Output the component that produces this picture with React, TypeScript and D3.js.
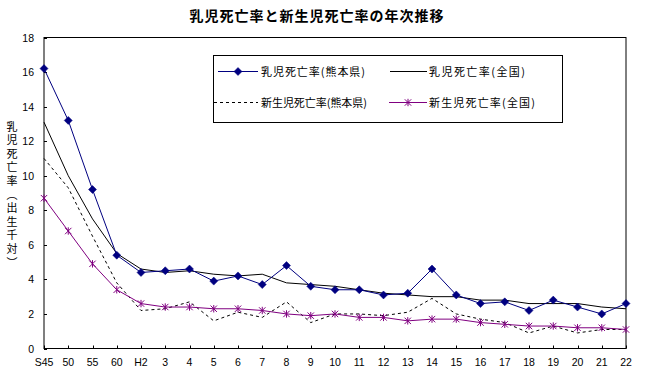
import React from "react";
import * as d3 from "d3";

const categories = ["S45","50","55","60","H2","3","4","5","6","7","8","9","10","11","12","13","14","15","16","17","18","19","20","21","22"];
const kumaInfant = [16.2,13.2,9.2,5.4,4.4,4.5,4.6,3.9,4.2,3.7,4.8,3.6,3.4,3.4,3.1,3.2,4.6,3.1,2.6,2.7,2.2,2.8,2.4,2.0,2.6];
const natInfant = [13.1,10.0,7.5,5.5,4.6,4.4,4.5,4.3,4.2,4.3,3.8,3.7,3.6,3.4,3.2,3.1,3.0,3.0,2.8,2.8,2.6,2.6,2.6,2.4,2.3];
const kumaNeo = [11.0,9.3,6.5,3.8,2.2,2.3,2.7,1.6,2.1,1.8,2.7,1.5,2.0,2.0,1.9,2.1,2.9,2.0,1.7,1.5,0.9,1.3,0.9,1.1,1.1];
const natNeo = [8.7,6.8,4.9,3.4,2.6,2.4,2.4,2.3,2.3,2.2,2.0,1.9,2.0,1.8,1.8,1.6,1.7,1.7,1.5,1.4,1.3,1.3,1.2,1.2,1.1];
const yTicks = [0,2,4,6,8,10,12,14,16,18];
const title = "乳児死亡率と新生児死亡率の年次推移";
const yLabel = "乳児死亡率（出生千対）";
const legendNames = ["乳児死亡率(熊本県)","乳児死亡率(全国)","新生児死亡率(熊本県)","新生児死亡率(全国)"];

const JP = "'Noto Sans CJK JP', 'DejaVu Sans', sans-serif";
const NAVY = "#000080";
const PURPLE = "#800080";

const L = 44, R = 626, T = 37.5, B = 348.5;

const x = d3.scalePoint<string>().domain(categories).range([L, R]);
const y = d3.scaleLinear().domain([0, 18]).range([B, T]);

function Diamond({ cx, cy }: { cx: number; cy: number }) {
  const s = 4;
  return <path d={`M${cx},${cy - s}L${cx + s},${cy}L${cx},${cy + s}L${cx - s},${cy}Z`} fill={NAVY} stroke={NAVY} strokeWidth={0.5} />;
}
function Star({ cx, cy }: { cx: number; cy: number }) {
  const s = 3.2;
  return (
    <path
      d={`M${cx - s},${cy - s}L${cx + s},${cy + s}M${cx - s},${cy + s}L${cx + s},${cy - s}M${cx},${cy - s - 0.5}L${cx},${cy + s + 0.5}`}
      stroke={PURPLE}
      strokeWidth={1}
      fill="none"
    />
  );
}

export default function App() {
  const line = d3
    .line<number>()
    .x((_, i) => x(categories[i]) as number)
    .y((d) => y(d));

  return (
    <svg width={648} height={376} style={{ position: "absolute", left: 0, top: 0, background: "#fff" }}>
      <rect x={0} y={0} width={648} height={376} fill="#fff" />
      <text x={317} y={21} textAnchor="middle" fontFamily={JP} fontWeight="bold" fontSize={14} letterSpacing={1}>
        {title}
      </text>

      {/* plot frame */}
      <rect x={L} y={T} width={R - L} height={B - T} fill="none" stroke="#000" strokeWidth={1} />

      {/* y ticks */}
      {yTicks.map((t) => (
        <g key={t}>
          <line x1={L} x2={L + 3} y1={Math.round(y(t)) + 0.5} y2={Math.round(y(t)) + 0.5} stroke="#000" />
          <text x={34} y={y(t) + 4} textAnchor="end" fontFamily="'Liberation Sans', Arial, sans-serif" fontSize={10.5}>
            {t}
          </text>
        </g>
      ))}
      {/* x ticks */}
      {categories.map((c) => (
        <g key={c}>
          <line x1={Math.round(x(c) as number) + 0.5} x2={Math.round(x(c) as number) + 0.5} y1={B} y2={B - 3} stroke="#000" />
          <text x={x(c) as number} y={366} textAnchor="middle" fontFamily="'Liberation Sans', Arial, sans-serif" fontSize={10.5}>
            {c}
          </text>
        </g>
      ))}

      {/* y axis label */}
      <text
        x={12}
        y={121}
        fontFamily={JP}
        fontSize={11}
        letterSpacing={2.6}
        style={{ writingMode: "vertical-rl" as any }}
      >
        {yLabel}
      </text>

      {/* series */}
      <path d={line(natInfant) || ""} fill="none" stroke="#000" strokeWidth={1} />
      <path d={line(kumaNeo) || ""} fill="none" stroke="#000" strokeWidth={1} strokeDasharray="3,3" />
      <path d={line(natNeo) || ""} fill="none" stroke={PURPLE} strokeWidth={1} />
      {natNeo.map((v, i) => (
        <Star key={i} cx={x(categories[i]) as number} cy={y(v)} />
      ))}
      <path d={line(kumaInfant) || ""} fill="none" stroke={NAVY} strokeWidth={1} />
      {kumaInfant.map((v, i) => (
        <Diamond key={i} cx={x(categories[i]) as number} cy={y(v)} />
      ))}

      {/* legend */}
      <rect x={213.5} y={55.5} width={349} height={67} fill="#fff" stroke="#000" strokeWidth={1} />
      <line x1={218} x2={258} y1={71.5} y2={71.5} stroke={NAVY} />
      <Diamond cx={238} cy={71.5} />
      <text x={261} y={75.5} fontFamily={JP} fontSize={11} textLength={104} lengthAdjust="spacing">{legendNames[0]}</text>
      <line x1={390} x2={427} y1={71.5} y2={71.5} stroke="#000" />
      <text x={429} y={75.5} fontFamily={JP} fontSize={11} textLength={96} lengthAdjust="spacing">{legendNames[1]}</text>
      <line x1={214} x2={258} y1={102.5} y2={102.5} stroke="#000" strokeDasharray="3,3" />
      <text x={261} y={106.5} fontFamily={JP} fontSize={11} textLength={106} lengthAdjust="spacing">{legendNames[2]}</text>
      <line x1={389} x2={427} y1={102.5} y2={102.5} stroke={PURPLE} />
      <Star cx={408} cy={102.5} />
      <text x={429} y={106.5} fontFamily={JP} fontSize={11} textLength={106} lengthAdjust="spacing">{legendNames[3]}</text>
    </svg>
  );
}
